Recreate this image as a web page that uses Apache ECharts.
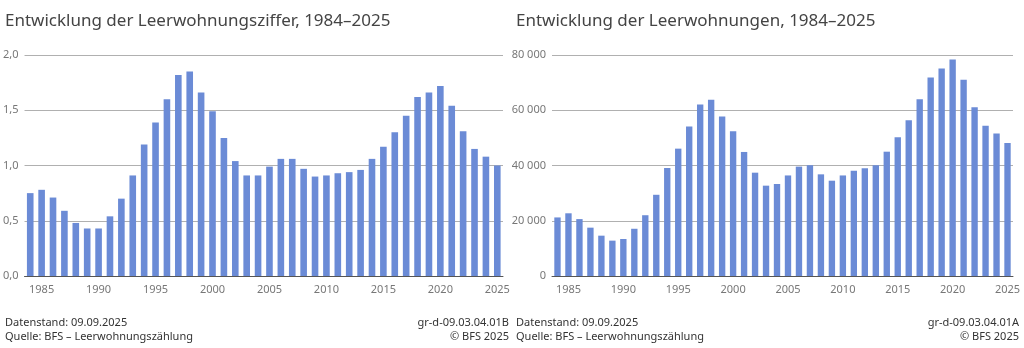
<!DOCTYPE html>
<html>
<head>
<meta charset="UTF-8">
<title>Leerwohnungen</title>
<script src="https://cdn.jsdelivr.net/npm/echarts@6/dist/echarts.min.js"></script>
<style>
  html, body { margin: 0; padding: 0; background: #fff; }
  #main { width: 1024px; height: 348px; }
</style>
</head>
<body>
<div id="main"></div>
<script>
// Jahre 1984–2025
var years = [];
for (var y = 1984; y <= 2025; y++) years.push(String(y));

// Leerwohnungsziffer in %
var ziffer = [0.75, 0.78, 0.71, 0.59, 0.48, 0.43, 0.43, 0.54, 0.70, 0.91,
              1.19, 1.39, 1.60, 1.82, 1.85, 1.66, 1.49, 1.25, 1.04, 0.91,
              0.91, 0.99, 1.06, 1.06, 0.97, 0.90, 0.91, 0.93, 0.94, 0.96,
              1.06, 1.17, 1.30, 1.45, 1.62, 1.66, 1.72, 1.54, 1.31, 1.15,
              1.08, 1.00];

// Leerwohnungen (Anzahl)
var wohnungen = [21200, 22700, 20600, 17500, 14600, 12800, 13400, 17100, 22000, 29400,
                 39100, 46100, 54100, 62100, 63800, 57700, 52400, 44900, 37400, 32700,
                 33300, 36400, 39600, 40100, 36800, 34500, 36400, 38100, 39000, 40100,
                 45000, 50200, 56400, 64000, 71900, 75100, 78400, 71000, 61100, 54400,
                 51600, 48100];

var barColor = '#6b8bd6';
var fontFam = '"Noto Sans", "Open Sans", sans-serif';

function xAxis(idx) {
    return {
        type: 'category',
        gridIndex: idx,
        data: years,
        axisLine: { lineStyle: { color: '#555', width: 1 } },
        axisTick: {
            alignWithLabel: true,
            length: 4,
            lineStyle: { color: '#555' },
            interval: function (i, v) { return Number(v) % 5 === 0; }
        },
        axisLabel: {
            interval: function (i, v) { return Number(v) % 5 === 0; },
            color: '#777', fontSize: 11, fontFamily: fontFam, margin: 8
        }
    };
}

function yAxis(idx, max, step, fmt) {
    return {
        type: 'value',
        gridIndex: idx,
        min: 0, max: max, interval: step,
        axisLine: { show: false },
        axisTick: { show: false },
        splitLine: { lineStyle: { color: '#b0b0b0', width: 1 } },
        axisLabel: { color: '#777', fontSize: 11, fontFamily: fontFam, margin: 6, formatter: fmt }
    };
}

function footer(x, align, lines) {
    return {
        type: 'text', left: align === 'left' ? x : null, right: align === 'right' ? x : null, top: 316,
        style: { text: lines, fill: '#333', font: '11px ' + fontFam, lineHeight: 14, textAlign: align }
    };
}

var chart = echarts.init(document.getElementById('main'), null, { renderer: 'canvas' });
chart.setOption({
    animation: false,
    title: [
        { text: 'Entwicklung der Leerwohnungsziffer, 1984–2025', left: 0, top: 8,
          textStyle: { fontSize: 17, fontWeight: 'normal', color: '#444', fontFamily: fontFam } },
        { text: 'Entwicklung der Leerwohnungen, 1984–2025', left: 511, top: 8,
          textStyle: { fontSize: 17, fontWeight: 'normal', color: '#444', fontFamily: fontFam } }
    ],
    grid: [
        { left: 24, right: 521, top: 55, bottom: 72 },
        { left: 552, right: 11, top: 55, bottom: 72 }
    ],
    xAxis: [xAxis(0), xAxis(1)],
    yAxis: [
        yAxis(0, 2, 0.5, function (v) { return v.toFixed(1).replace('.', ','); }),
        yAxis(1, 80000, 20000, function (v) { return String(v).replace(/\B(?=(\d{3})+(?!\d))/g, ' '); })
    ],
    series: [
        { type: 'bar', xAxisIndex: 0, yAxisIndex: 0, data: ziffer, barWidth: '58%', itemStyle: { color: barColor } },
        { type: 'bar', xAxisIndex: 1, yAxisIndex: 1, data: wohnungen, barWidth: '58%', itemStyle: { color: barColor } }
    ],
    graphic: [
        footer(5, 'left', 'Datenstand: 09.09.2025\nQuelle: BFS – Leerwohnungszählung'),
        footer(515, 'right', 'gr-d-09.03.04.01B\n© BFS 2025'),
        footer(516, 'left', 'Datenstand: 09.09.2025\nQuelle: BFS – Leerwohnungszählung'),
        footer(5, 'right', 'gr-d-09.03.04.01A\n© BFS 2025')
    ]
});
</script>
</body>
</html>
